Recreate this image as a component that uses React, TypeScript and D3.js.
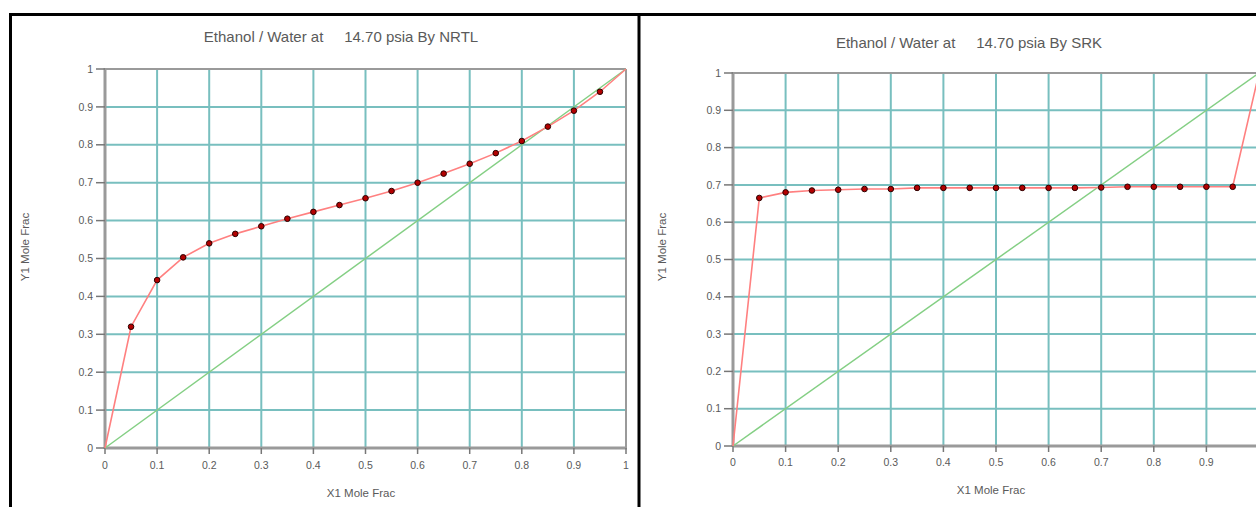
import React from "react";
import * as d3 from "d3";

// Liquid mole fraction of ethanol (x1) at which the VLE curves are evaluated
const X1_POINTS = [0, 0.05, 0.1, 0.15, 0.2, 0.25, 0.3, 0.35, 0.4, 0.45, 0.5, 0.55, 0.6, 0.65, 0.7, 0.75, 0.8, 0.85, 0.9, 0.95, 1];

// Vapor mole fraction y1 from the NRTL activity model
const NRTL_Y1 = [0, 0.32, 0.443, 0.503, 0.54, 0.565, 0.585, 0.605, 0.623, 0.641, 0.659, 0.678, 0.70, 0.724, 0.75, 0.778, 0.81, 0.848, 0.89, 0.94, 1];

// Vapor mole fraction y1 from the SRK equation of state
const SRK_Y1 = [0, 0.665, 0.68, 0.685, 0.687, 0.689, 0.689, 0.692, 0.692, 0.692, 0.692, 0.692, 0.692, 0.692, 0.693, 0.695, 0.695, 0.695, 0.695, 0.695, 1];

const AXIS_TICKS = [0, 0.1, 0.2, 0.3, 0.4, 0.5, 0.6, 0.7, 0.8, 0.9, 1];
const TICK_LABELS = ["0", "0.1", "0.2", "0.3", "0.4", "0.5", "0.6", "0.7", "0.8", "0.9", "1"];

const TITLE_NRTL = "Ethanol / Water at\u00a0\u00a0\u00a0\u00a0 14.70 psia By NRTL";
const TITLE_SRK = "Ethanol / Water at\u00a0\u00a0\u00a0\u00a0 14.70 psia By SRK";
const X_TITLE = "X1 Mole Frac";
const Y_TITLE = "Y1 Mole Frac";

const FONT = "'Liberation Sans', Arial, sans-serif";
const TEXT_COLOR = "#5a5a5a";
const GRID_COLOR = "#78bfbf";
const AXIS_COLOR = "#9a9a9a";

type PanelProps = {
  title: string;
  ys: number[];
  left: number;
  right: number;
  top: number;
  bottom: number;
  titleX: number;
  titleY: number;
  yTitleX: number;
  yTitleY: number;
  xTitleX: number;
  xTitleY: number;
  xLabelY: number;
};

function Panel(p: PanelProps) {
  const x = d3.scaleLinear().domain([0, 1]).range([p.left, p.right]);
  const y = d3.scaleLinear().domain([0, 1]).range([p.bottom, p.top]);
  const pts: [number, number][] = X1_POINTS.map((v, i) => [v, p.ys[i]]);
  const line = d3
    .line<[number, number]>()
    .x((d) => x(d[0]))
    .y((d) => y(d[1]));
  const diag = line([
    [0, 0],
    [1, 1],
  ]) as string;
  const markers = pts.filter((d) => d[0] > 0 && d[0] < 1);

  return (
    <g>
      {/* grid */}
      {AXIS_TICKS.filter((t) => t > 0 && t < 1).map((t) => (
        <line key={"gx" + t} x1={x(t)} x2={x(t)} y1={y(0)} y2={y(1)} stroke={GRID_COLOR} strokeWidth={2} />
      ))}
      {AXIS_TICKS.filter((t) => t > 0 && t < 1).map((t) => (
        <line key={"gy" + t} x1={x(0)} x2={x(1)} y1={y(t)} y2={y(t)} stroke={GRID_COLOR} strokeWidth={2} />
      ))}
      {/* plot frame */}
      <line x1={x(0)} x2={x(1)} y1={y(1)} y2={y(1)} stroke={AXIS_COLOR} strokeWidth={2} />
      <line x1={x(1)} x2={x(1)} y1={y(0)} y2={y(1)} stroke={AXIS_COLOR} strokeWidth={2} />
      <line x1={x(0)} x2={x(1) + 1} y1={y(0)} y2={y(0)} stroke={AXIS_COLOR} strokeWidth={3} />
      <line x1={x(0)} x2={x(0)} y1={y(0) + 1} y2={y(1) - 1} stroke={AXIS_COLOR} strokeWidth={3} />
      {/* ticks */}
      {AXIS_TICKS.map((t) => (
        <line key={"ty" + t} x1={x(0) - 9} x2={x(0)} y1={y(t)} y2={y(t)} stroke="#777" strokeWidth={1.5} />
      ))}
      {AXIS_TICKS.map((t) => (
        <line key={"tx" + t} x1={x(t)} x2={x(t)} y1={y(0)} y2={y(0) + 6} stroke="#777" strokeWidth={1.5} />
      ))}
      {/* tick labels */}
      {AXIS_TICKS.map((t, i) => (
        <text key={"ly" + t} x={x(0) - 12} y={y(t)} dy="0.35em" textAnchor="end" fontSize={10.5} fill={TEXT_COLOR} fontFamily={FONT}>
          {TICK_LABELS[i]}
        </text>
      ))}
      {AXIS_TICKS.map((t, i) => (
        <text key={"lx" + t} x={x(t)} y={p.xLabelY} dy="0.35em" textAnchor="middle" fontSize={10.5} fill={TEXT_COLOR} fontFamily={FONT}>
          {TICK_LABELS[i]}
        </text>
      ))}
      {/* x = y reference */}
      <path d={diag} fill="none" stroke="#84cf84" strokeWidth={1.5} />
      {/* equilibrium curve */}
      <path d={line(pts) as string} fill="none" stroke="#ff8080" strokeWidth={1.6} />
      {markers.map((d) => (
        <circle key={"m" + d[0]} cx={x(d[0])} cy={y(d[1])} r={2.8} fill="#b30000" stroke="#2a0000" strokeWidth={1} />
      ))}
      {/* titles */}
      <text x={p.titleX} y={p.titleY} dy="0.35em" textAnchor="middle" fontSize={15} fill={TEXT_COLOR} fontFamily={FONT}>
        {p.title}
      </text>
      <text x={p.xTitleX} y={p.xTitleY} dy="0.35em" textAnchor="middle" fontSize={11.5} fill={TEXT_COLOR} fontFamily={FONT}>
        {X_TITLE}
      </text>
      <text
        transform={`translate(${p.yTitleX},${p.yTitleY}) rotate(-90)`}
        dy="0.35em"
        textAnchor="middle"
        fontSize={11.5}
        fill={TEXT_COLOR}
        fontFamily={FONT}
      >
        {Y_TITLE}
      </text>
    </g>
  );
}

export default function App() {
  const W = 1256;
  const H = 507;
  return (
    <svg width={W} height={H} style={{ position: "absolute", left: 0, top: 0, background: "#fff" }}>
      <rect width={W} height={H} fill="#fff" />
      <Panel
        title={TITLE_NRTL}
        ys={NRTL_Y1}
        left={105}
        right={626}
        top={69}
        bottom={448}
        titleX={341}
        titleY={37}
        yTitleX={25}
        yTitleY={247}
        xTitleX={361}
        xTitleY={493}
        xLabelY={465}
      />
      <Panel
        title={TITLE_SRK}
        ys={SRK_Y1}
        left={733}
        right={1259}
        top={73}
        bottom={446}
        titleX={969}
        titleY={43}
        yTitleX={662}
        yTitleY={247}
        xTitleX={991}
        xTitleY={490}
        xLabelY={462}
      />
      {/* panel frames */}
      <line x1={9} x2={W} y1={14.5} y2={14.5} stroke="#000" strokeWidth={3} />
      <line x1={10.5} x2={10.5} y1={13} y2={H} stroke="#000" strokeWidth={3} />
      <line x1={639} x2={639} y1={13} y2={H} stroke="#000" strokeWidth={3} />
    </svg>
  );
}
